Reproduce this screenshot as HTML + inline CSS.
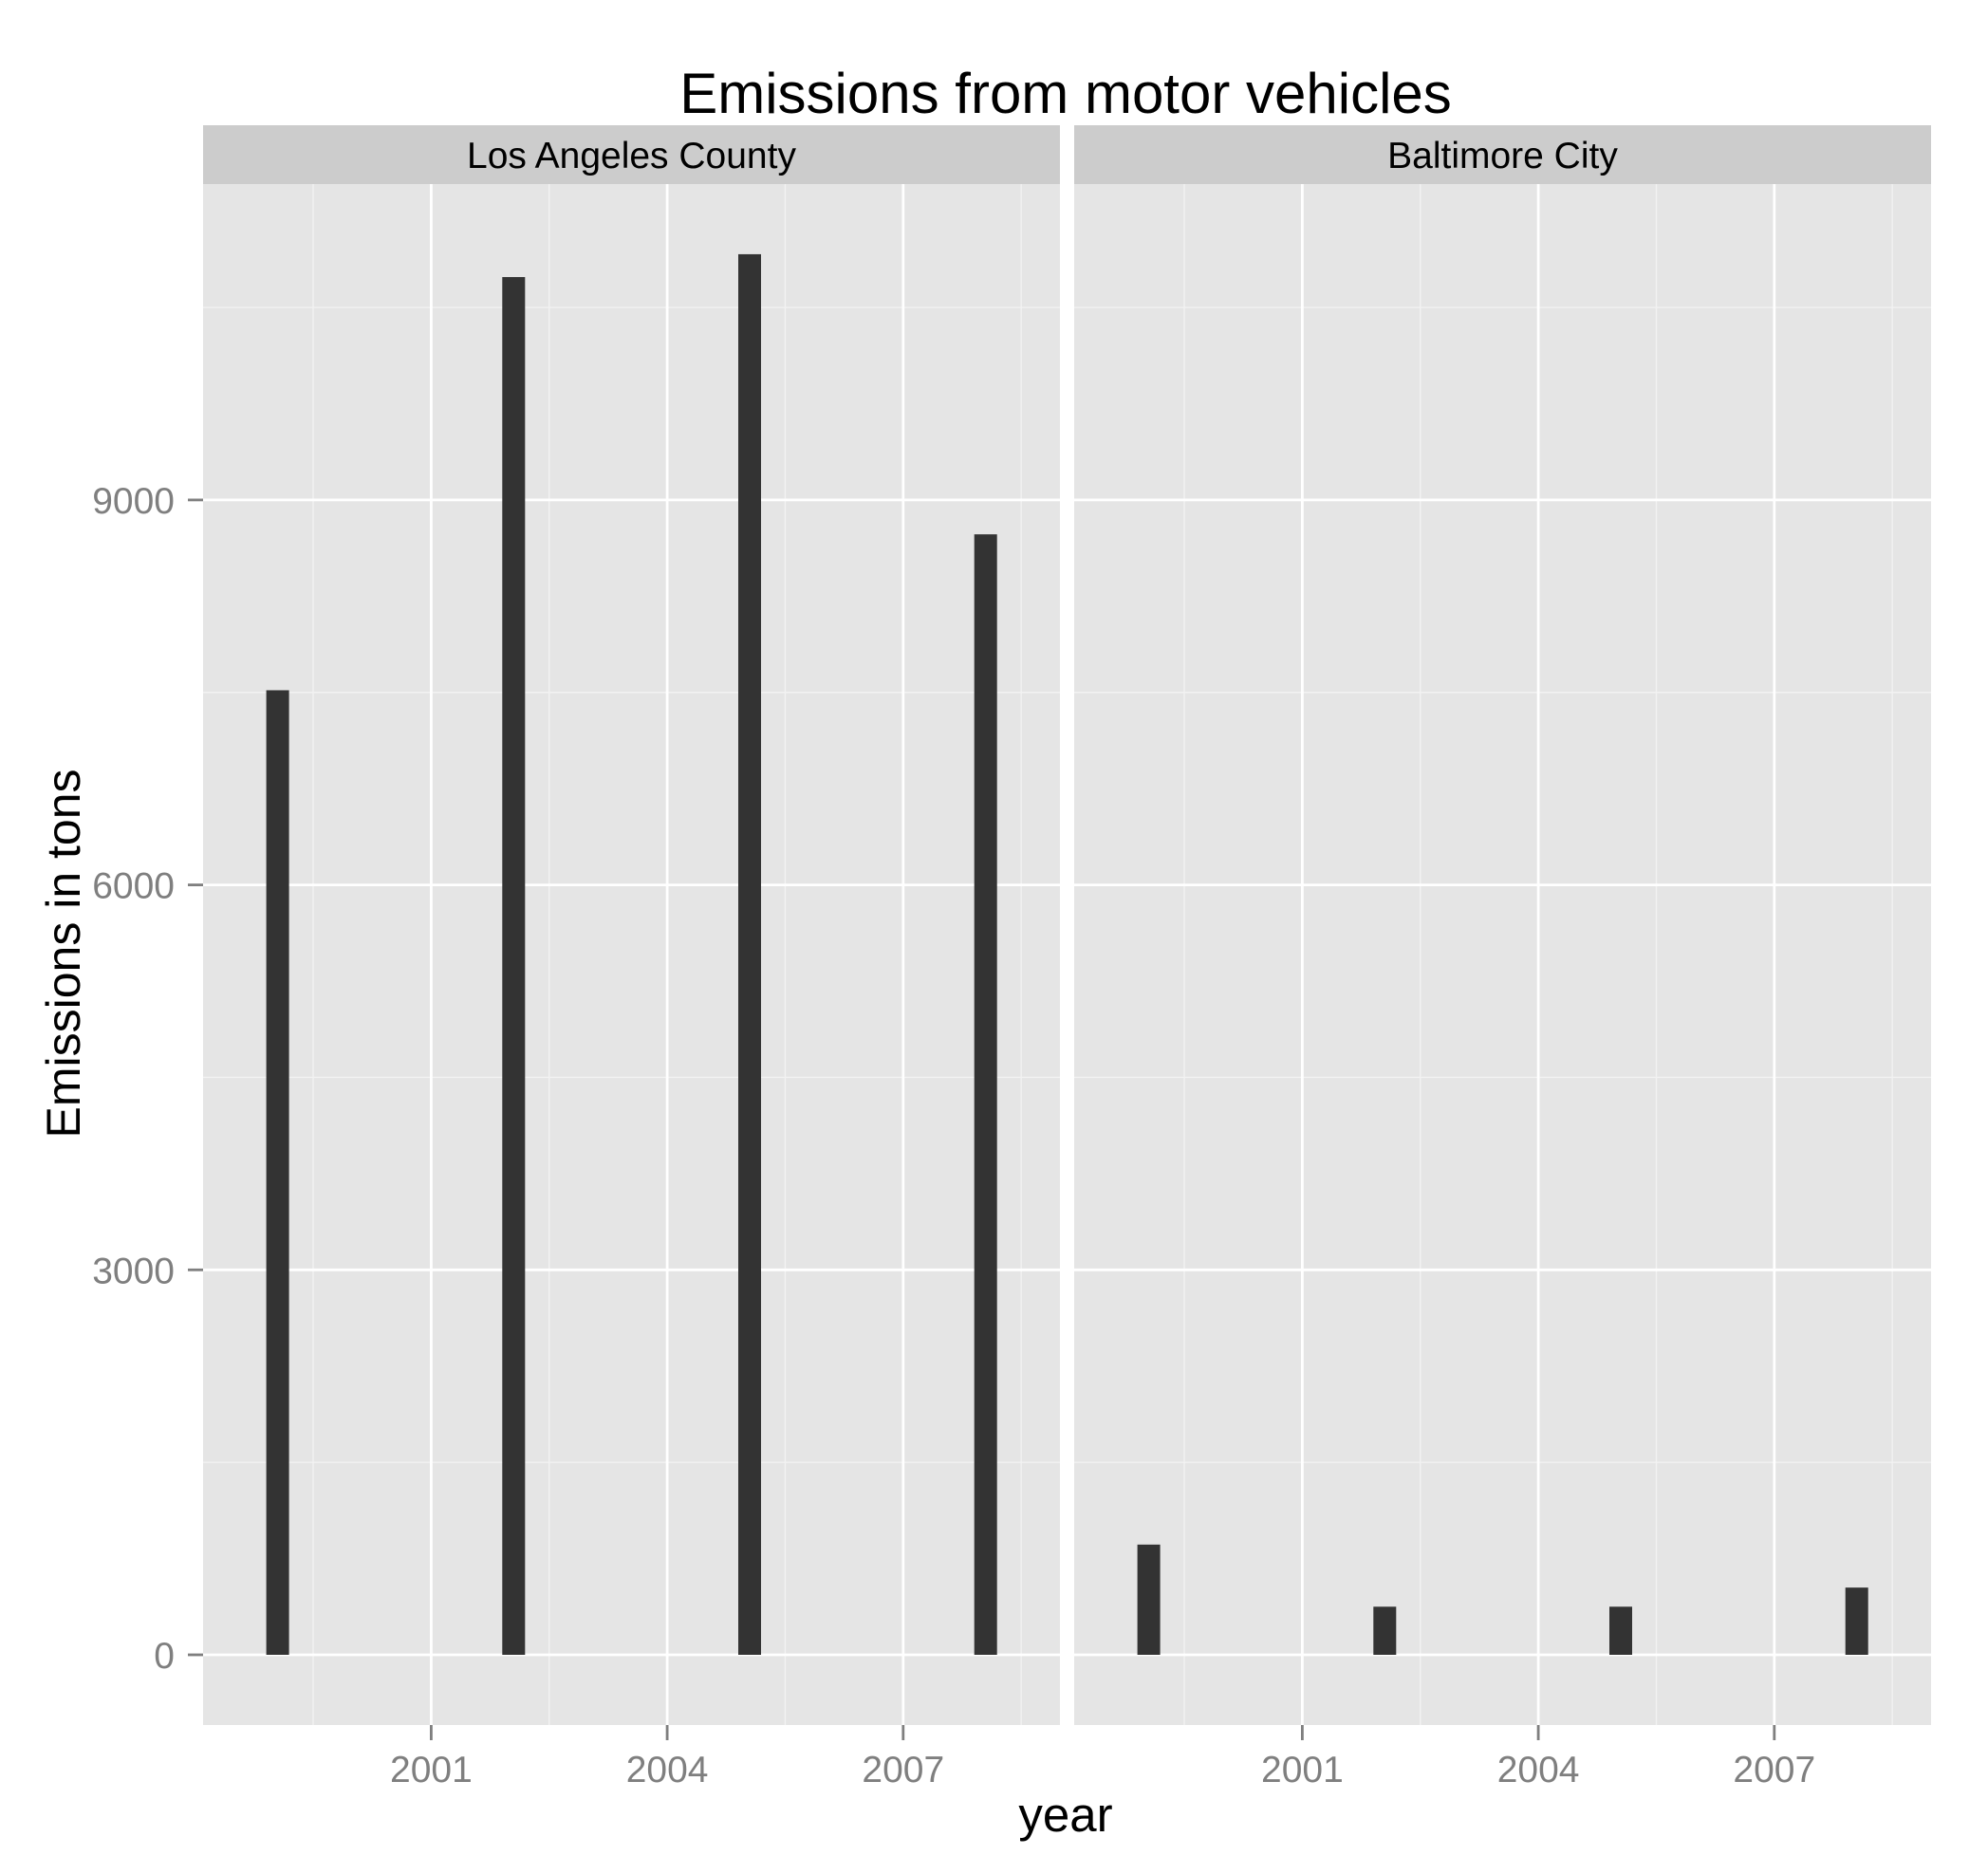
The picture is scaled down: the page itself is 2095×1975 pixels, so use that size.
<!DOCTYPE html>
<html><head><meta charset="utf-8"><style>
html,body{margin:0;padding:0;background:#fff;}
svg{display:block;font-family:"Liberation Sans",Arial,sans-serif;}
</style></head><body>
<svg id="chart" width="2095" height="1975" viewBox="0 0 2095 1975" xmlns="http://www.w3.org/2000/svg"></svg>
<script>
const panels = ["Los Angeles County", "Baltimore City"];
const years = [1999, 2002, 2005, 2008];
const laValues = [7517, 10737, 10915, 8732];
const baltValues = [859, 375, 375, 524];
const yTicks = [0, 3000, 6000, 9000];
const yMinor = [1500, 4500, 7500, 10500];
const xTicks = [2001, 2004, 2007];
const xMinor = [1999.5, 2002.5, 2005.5, 2008.5];

const NS = "http://www.w3.org/2000/svg";
const svg = document.getElementById("chart");
function mk(tag, attrs, parent) {
  const e = document.createElementNS(NS, tag);
  for (const k in attrs) e.setAttribute(k, attrs[k]);
  (parent || svg).appendChild(e);
  return e;
}
const plotTop = 194, plotBottom = 1818, stripTop = 132;
const panelX = [214, 1132], panelW = 903;
function yScale(v) { return 1744 - v * (405.7 / 3000); }
function xScale(yr, p) { return panelX[p] + (454.4 - 214) + (yr - 2001) * 82.9; }
const seriesList = [laValues, baltValues];

const title = mk("text", {x: 1123, y: 119, "font-size": 60, "text-anchor": "middle", fill: "#000"});


title.textContent = "Emissions from motor vehicles";

panels.forEach((name, p) => {
  const g = mk("g", {});
  
  
  const x0 = panelX[p];
  const strip = mk("rect", {x: x0, y: stripTop, width: panelW, height: plotTop - stripTop, fill: "#CCCCCC"}, g);
  
  
  const st = mk("text", {x: x0 + panelW / 2, y: 177, "font-size": 39, "text-anchor": "middle", fill: "#000"}, g);
  
  
  st.textContent = name;
  const bg = mk("rect", {x: x0, y: plotTop, width: panelW, height: plotBottom - plotTop, fill: "#E5E5E5"}, g);
  
  
  yMinor.forEach(v => {
    const l = mk("line", {x1: x0, x2: x0 + panelW, y1: yScale(v), y2: yScale(v), stroke: "#F2F2F2", "stroke-width": 1.4}, g);
    
    
  });
  xMinor.forEach(v => {
    const l = mk("line", {x1: xScale(v, p), x2: xScale(v, p), y1: plotTop, y2: plotBottom, stroke: "#F2F2F2", "stroke-width": 1.4}, g);
    
    
  });
  yTicks.forEach(v => {
    const l = mk("line", {x1: x0, x2: x0 + panelW, y1: yScale(v), y2: yScale(v), stroke: "#FFFFFF", "stroke-width": 2.8}, g);
    
    
  });
  xTicks.forEach(v => {
    const l = mk("line", {x1: xScale(v, p), x2: xScale(v, p), y1: plotTop, y2: plotBottom, stroke: "#FFFFFF", "stroke-width": 2.8}, g);
    
    
    const t = mk("line", {x1: xScale(v, p), x2: xScale(v, p), y1: plotBottom, y2: plotBottom + 16, stroke: "#7F7F7F", "stroke-width": 2.8}, g);
    
    
    const lb = mk("text", {x: xScale(v, p), y: 1878, "font-size": 39, "text-anchor": "middle", fill: "#7F7F7F"}, g);
    
    
    lb.textContent = v;
  });
  const vals = seriesList[p];
  years.forEach((yr, i) => {
    const cx = xScale(yr, p) + 4;
    const b = mk("rect", {x: cx - 12, y: yScale(vals[i]), width: 24, height: yScale(0) - yScale(vals[i]), fill: "#333333"}, g);
    
    
  });
});

yTicks.forEach(v => {
  const t = mk("line", {x1: 198, x2: 214, y1: yScale(v), y2: yScale(v), stroke: "#7F7F7F", "stroke-width": 2.8});
  
  
  const lb = mk("text", {x: 184, y: yScale(v) + 14, "font-size": 39, "text-anchor": "end", fill: "#7F7F7F"});
  
  
  lb.textContent = v;
});

const xt = mk("text", {x: 1123, y: 1930, "font-size": 51, "text-anchor": "middle", fill: "#000"});


xt.textContent = "year";
const yt = mk("text", {x: 0, y: 0, "font-size": 50, "text-anchor": "middle", fill: "#000", transform: "translate(84,1005) rotate(-90)"});


yt.textContent = "Emissions in tons";
</script>
</body></html>
